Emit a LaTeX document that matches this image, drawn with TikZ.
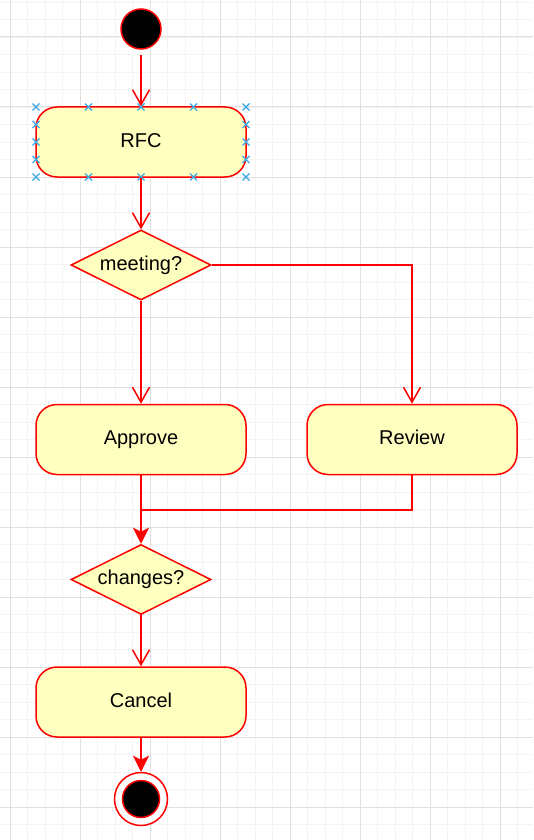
\documentclass[tikz,border=0pt]{standalone}
\usepackage{fontspec}
\setmainfont{Liberation Sans}
\usetikzlibrary{shapes.geometric,arrows.meta}
\definecolor{nodefill}{HTML}{FFFFC0}
\definecolor{edge}{HTML}{FF0000}
\definecolor{gridmajor}{HTML}{E0E0E0}
\definecolor{gridminor}{HTML}{F4F4F4}
\definecolor{handle}{HTML}{3BA8E6}
\tikzset{
  action/.style={draw=edge, fill=nodefill, line width=1.5pt, rounded corners=21pt,
    minimum width=210pt, minimum height=70pt, inner sep=0pt, text height=14pt, text depth=4pt,
    font=\fontsize{20}{24}\selectfont},
  decision/.style={draw=edge, fill=nodefill, line width=1.5pt, diamond, shape aspect=2,
    minimum width=140pt, minimum height=70pt, inner sep=0pt, font=\fontsize{20}{24}\selectfont},
  flow/.style={draw=edge, line width=1.5pt, -{Straight Barb[length=15pt,width=17pt,line width=1.5pt]}},
  flowfilled/.style={draw=edge, line width=1.5pt, -{Stealth[length=16pt,width=16pt,inset=4pt]}},
  handlemark/.style={draw=handle, line width=1.2pt},
}
\begin{document}
\begin{tikzpicture}[x=1pt,y=-1pt]
\useasboundingbox (0,0) rectangle (533,840);
\fill[white] (0,0) rectangle (533,840);
% grid
\foreach \i in {0,...,31} {
  \draw[gridminor, line width=0.8pt] ({10+17.5*(\i-1)},0) -- ({10+17.5*(\i-1)},840);
}
\foreach \i in {0,...,49} {
  \draw[gridminor, line width=0.8pt] (0,{37+17.5*(\i-3)}) -- (533,{37+17.5*(\i-3)});
}
\foreach \x in {10,80,...,500} {
  \draw[gridmajor, line width=1pt] (\x,0) -- (\x,840);
}
\foreach \y in {37,107,...,807} {
  \draw[gridmajor, line width=1pt] (0,\y) -- (533,\y);
}
% nodes
\node[circle, draw=edge, fill=black, line width=1.5pt, minimum size=40pt, inner sep=0pt] (start) at (141,29) {};
\node[action] (rfc) at (141,142) {RFC};
\node[decision] (meet) at (141,265) {meeting?};
\node[action] (approve) at (141,439.5) {Approve};
\node[action] (review) at (412,439.5) {Review};
\node[decision] (changes) at (141,579.5) {changes?};
\node[action] (cancel) at (141,702) {Cancel};
\node[circle, draw=edge, fill=white, line width=1.5pt, minimum size=53pt, inner sep=0pt] (finish) at (141,799) {};
\node[circle, draw=edge, fill=black, line width=1.5pt, minimum size=37pt, inner sep=0pt] (finishin) at (141,799) {};
% selection handles on RFC
\foreach \hx in {36,88.5,141,193.5,246} {
  \foreach \hy in {107,177} {
    \draw[handlemark] (\hx-3.5,\hy-3.5) -- (\hx+3.5,\hy+3.5) (\hx-3.5,\hy+3.5) -- (\hx+3.5,\hy-3.5);
  }
}
\foreach \hx in {36,246} {
  \foreach \hy in {124.5,142,159.5} {
    \draw[handlemark] (\hx-3.5,\hy-3.5) -- (\hx+3.5,\hy+3.5) (\hx-3.5,\hy+3.5) -- (\hx+3.5,\hy-3.5);
  }
}
% connectors
\coordinate (st) at (141,55);
\draw[flow] (st) -- (rfc.north);
\draw[flow] (rfc.south) -- (meet.north);
\draw[flow] (meet.south) -- (approve.north);
\draw[flow] (meet.east) -| (review.north);
\coordinate (merge) at (141,510);
\draw[flowfilled] (approve.south) -- (changes.north);
\draw[draw=edge, line width=1.5pt] (review.south) |- (merge);
\draw[flow] (changes.south) -- (cancel.north);
\draw[flowfilled] (cancel.south) -- (finish.north);
\end{tikzpicture}
\end{document}
